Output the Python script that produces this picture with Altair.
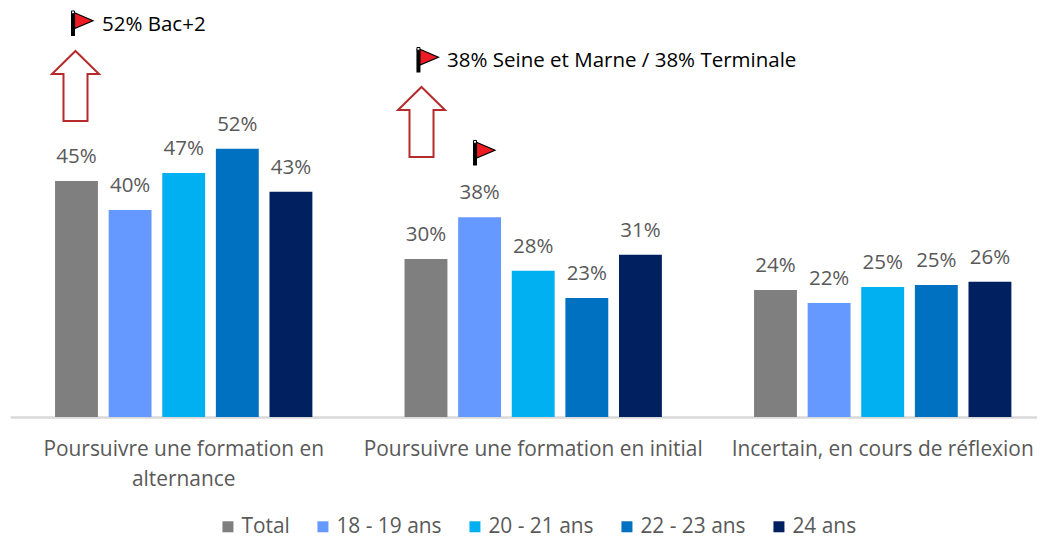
import altair as alt
import pandas as pd

groups = ["Poursuivre une formation en|alternance", "Poursuivre une formation en initial", "Incertain, en cours de réflexion"]
series = ["Total", "18 - 19 ans", "20 - 21 ans", "22 - 23 ans", "24 ans"]
colors = ["#7f7f7f", "#6699ff", "#00b0f0", "#0070c0", "#002060"]
values = [
    [45.4, 39.8, 46.9, 51.6, 43.3],
    [30.4, 38.4, 28.1, 22.9, 31.2],
    [24.4, 21.9, 25.0, 25.4, 26.0],
]
# annotation positions: x in group units (0 = first group centre), y in percent
arrow_x = [-0.309, 0.681]
arrow_y = [63.65, 56.73]
flag_x = [-0.2904, 0.698, 0.8598]
flag_y = [75.67, 68.65, 50.77]
note_x = [-0.2332, 0.754]
note_y = [75.4, 68.45]
notes = ["52% Bac+2", "38% Seine et Marne / 38% Terminale"]

FONT = "Open Sans"
FS = 20.5
FS_AXIS = 20.9
df = pd.DataFrame(
    [{"group": g, "series": s, "value": values[i][j]} for i, g in enumerate(groups) for j, s in enumerate(series)]
)
ymax = 78.65
y_scale = alt.Scale(domain=[0, ymax], nice=False)
x_enc = alt.X(
    "group:N", sort=groups, title=None,
    scale=alt.Scale(paddingInner=0.233, paddingOuter=0.08575, align=0.662),
    axis=alt.Axis(
        labelExpr="split(datum.label, '|')", labelAngle=0, labelFontSize=FS_AXIS, labelFont=FONT,
        labelColor="#595959", labelLimit=400, labelPadding=32, labelLineHeight=30,
        ticks=False, domainColor="#d9d9d9", domainWidth=2.5, grid=False, labelBaseline="middle",
    ),
)
xo_enc = alt.XOffset("series:N", sort=series, scale=alt.Scale(domain=series, paddingInner=0.2, paddingOuter=0.1))
y_enc = alt.Y("value:Q", scale=y_scale, axis=None)

bars = alt.Chart(df).mark_bar().encode(
    x=x_enc, xOffset=xo_enc, y=y_enc,
    color=alt.Color(
        "series:N", sort=series, scale=alt.Scale(domain=series, range=colors),
        legend=alt.Legend(
            orient="none", legendX=207.5, legendY=508, direction="horizontal", columns=5, title=None,
            symbolType="square", symbolSize=121, symbolStrokeWidth=0, labelFontSize=FS_AXIS, labelFont=FONT,
            labelColor="#595959", columnPadding=22, labelOffset=3,
        ),
    ),
)
labels = alt.Chart(df).mark_text(baseline="bottom", dy=-14, fontSize=FS, font=FONT, color="#595959").encode(
    x=alt.X("group:N", sort=groups), xOffset=xo_enc, y=y_enc,
    text=alt.Text("pct:Q", format=".0%"),
).transform_calculate(pct="datum.value / 100")

ux = alt.Scale(domain=[-0.4964, 2.4421], nice=False, zero=False)
def xq():
    return alt.X("x:Q", scale=ux, axis=None)
def yq():
    return alt.Y("y:Q", scale=y_scale, axis=None)

ARROW = "M0,-1 L0.671,-0.343 L0.343,-0.343 L0.343,1 L-0.343,1 L-0.343,-0.343 L-0.671,-0.343 Z"
POLE = "M-0.88,-0.86 L-0.56,-0.86 L-0.56,1 L-0.88,1 Z"
KNOB = "M-0.84,-1 L-0.6,-1 L-0.6,-0.78 L-0.84,-0.78 Z"
PENNANT = "M-0.6,-0.86 L0.88,-0.22 L-0.6,0.4 Z"

arrows = alt.Chart(pd.DataFrame({"x": arrow_x, "y": arrow_y})).mark_point(
    shape=ARROW, size=4900, filled=True, fill="white", stroke="#b52b2b", strokeWidth=2, opacity=1
).encode(x=xq(), y=yq())
fdf = pd.DataFrame({"x": flag_x, "y": flag_y})
pole = alt.Chart(fdf).mark_point(shape=POLE, size=625, filled=True, fill="#000000", strokeWidth=0, opacity=1).encode(x=xq(), y=yq())
knob = alt.Chart(fdf).mark_point(shape=KNOB, size=625, filled=True, fill="#ffffff", stroke="#000000", strokeWidth=1, opacity=1).encode(x=xq(), y=yq())
pennant = alt.Chart(fdf).mark_point(shape=PENNANT, size=625, filled=True, fill="#ed1c24", stroke="#000000", strokeWidth=1.2, opacity=1).encode(x=xq(), y=yq())
note_text = alt.Chart(pd.DataFrame({"x": note_x, "y": note_y, "t": notes})).mark_text(
    align="left", baseline="middle", fontSize=FS, font=FONT, color="#000000"
).encode(x=xq(), y=yq(), text="t:N")

main = alt.layer(bars, labels)
ann = alt.layer(arrows, pole, pennant, knob, note_text)
chart = alt.layer(main, ann).resolve_scale(x="independent").properties(
    width=1027, height=409,
    padding={"left": 2, "top": 0, "right": 0, "bottom": 123},
    autosize=alt.AutoSizeParams(type="none"),
).configure_view(stroke=None)
chart.save("out.html", embed_options={"renderer": "svg", "actions": False})
